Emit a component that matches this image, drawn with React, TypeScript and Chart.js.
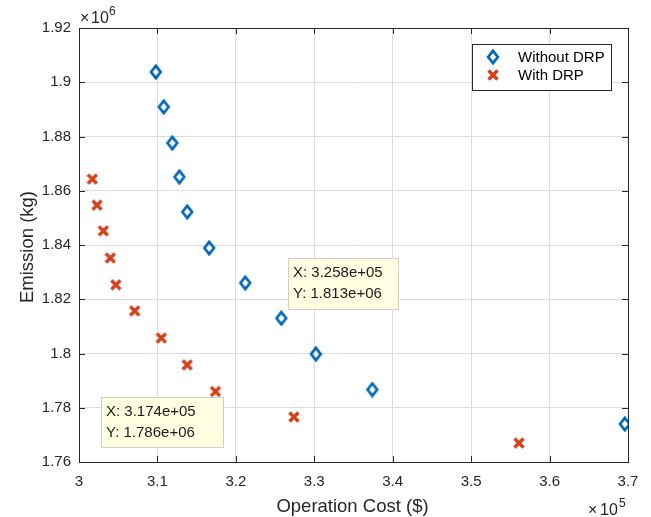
import React, { useEffect, useRef } from "react";
import { Chart, registerables } from "chart.js";

Chart.register(...registerables);

const costWithout = [309800, 310800, 311900, 312800, 313800, 316600, 321200, 325800, 330200, 337400, 369600];
const emissionWithout = [1903800, 1890900, 1877600, 1865100, 1852200, 1838900, 1826000, 1813000, 1799800, 1786700, 1774000];
const costWith = [301700, 302300, 303100, 304000, 304700, 307100, 310500, 313800, 317400, 327400, 356100];
const emissionWith = [1864300, 1854700, 1845200, 1835200, 1825300, 1815700, 1805700, 1795800, 1786000, 1776600, 1767000];

const seriesNames = ["Without DRP", "With DRP"];
const tipX = [325800, 317400];
const tipY = [1813000, 1786000];
const tipLabelsX = ["X: 3.258e+05", "X: 3.174e+05"];
const tipLabelsY = ["Y: 1.813e+06", "Y: 1.786e+06"];

const BLUE = "#0068B8";
const RED = "#D4401A";
const FONT = "'Liberation Sans', Arial, sans-serif";
const TXT = "#262626";

function makeDiamond() {
  const c = document.createElement("canvas");
  c.width = 14;
  c.height = 16;
  const g = c.getContext("2d")!;
  g.strokeStyle = BLUE;
  g.lineWidth = 2.7;
  g.beginPath();
  g.moveTo(7, 1.8);
  g.lineTo(11.8, 8);
  g.lineTo(7, 14.2);
  g.lineTo(2.2, 8);
  g.closePath();
  g.stroke();
  return c;
}

function makeCross() {
  const c = document.createElement("canvas");
  c.width = 12;
  c.height = 12;
  const g = c.getContext("2d")!;
  g.strokeStyle = RED;
  g.lineWidth = 3.4;
  g.lineCap = "butt";
  g.beginPath();
  g.moveTo(1.5, 1.5);
  g.lineTo(10.5, 10.5);
  g.moveTo(10.5, 1.5);
  g.lineTo(1.5, 10.5);
  g.stroke();
  return c;
}

function fmt(v: number, p: number) {
  return parseFloat((v / p).toFixed(3)).toString();
}

export default function App() {
  const ref = useRef<HTMLCanvasElement>(null);
  useEffect(() => {
    const diamond = makeDiamond();
    const cross = makeCross();
    const overlay = {
      id: "overlay",
      afterDraw(chart: any) {
        const ctx = chart.ctx as CanvasRenderingContext2D;
        const a = chart.chartArea;
        const xs = chart.scales.x;
        const ys = chart.scales.y;
        ctx.save();
        // box
        ctx.strokeStyle = TXT;
        ctx.lineWidth = 1;
        ctx.strokeRect(Math.round(a.left) + 0.5, Math.round(a.top) + 0.5, Math.round(a.right - a.left), Math.round(a.bottom - a.top));
        // inward ticks
        ctx.beginPath();
        xs.ticks.forEach((t: any) => {
          const px = Math.round(xs.getPixelForValue(t.value)) + 0.5;
          ctx.moveTo(px, a.bottom);
          ctx.lineTo(px, a.bottom - 6);
          ctx.moveTo(px, a.top);
          ctx.lineTo(px, a.top + 6);
        });
        ys.ticks.forEach((t: any) => {
          const py = Math.round(ys.getPixelForValue(t.value)) + 0.5;
          ctx.moveTo(a.left, py);
          ctx.lineTo(a.left + 6, py);
          ctx.moveTo(a.right, py);
          ctx.lineTo(a.right - 6, py);
        });
        ctx.stroke();
        // exponents
        ctx.fillStyle = TXT;
        ctx.textBaseline = "alphabetic";
        ctx.textAlign = "left";
        ctx.font = `16px ${FONT}`;
        ctx.fillText("\u00d7", a.left + 1, a.top - 5);
        ctx.fillText("10", a.left + 12, a.top - 5);
        ctx.font = `12px ${FONT}`;
        ctx.fillText("6", a.left + 30, a.top - 13);
        ctx.font = `16px ${FONT}`;
        ctx.fillText("\u00d7", a.right - 40, a.bottom + 53);
        ctx.fillText("10", a.right - 28, a.bottom + 53);
        ctx.font = `12px ${FONT}`;
        ctx.fillText("5", a.right - 9, a.bottom + 45);
        // axis titles
        ctx.font = `18.5px ${FONT}`;
        ctx.textAlign = "center";
        ctx.fillText("Operation Cost ($)", (a.left + a.right) / 2 - 1, a.bottom + 50);
        ctx.save();
        ctx.translate(a.left - 46, (a.top + a.bottom) / 2 + 2);
        ctx.rotate(-Math.PI / 2);
        ctx.fillText("Emission (kg)", 0, 0);
        ctx.restore();
        // legend
        const lx = a.right - 156, ly = a.top + 16, lw = 139, lh = 46;
        ctx.fillStyle = "#ffffff";
        ctx.fillRect(lx, ly, lw, lh);
        ctx.strokeStyle = "#262626";
        ctx.lineWidth = 1;
        ctx.strokeRect(lx + 0.5, ly + 0.5, lw, lh);
        ctx.drawImage(diamond, lx + 21 - 7, ly + 13 - 8);
        ctx.drawImage(cross, lx + 21 - 6, ly + 31 - 6);
        ctx.fillStyle = "#000";
        ctx.textAlign = "left";
        ctx.textBaseline = "middle";
        ctx.font = `15px ${FONT}`;
        ctx.fillText(seriesNames[0], lx + 46, ly + 14);
        ctx.fillText(seriesNames[1], lx + 46, ly + 32);
        // datatips
        const tipOffsets = [
          { dx: 7, dy: -60, w: 110, h: 51 },
          { dx: -114, dy: 6, w: 122, h: 50 },
        ];
        tipX.forEach((v, i) => {
          const px = xs.getPixelForValue(v);
          const py = ys.getPixelForValue(tipY[i]);
          const o = tipOffsets[i];
          const bx = Math.round(px + o.dx), by = Math.round(py + o.dy);
          ctx.fillStyle = "#FFFFE1";
          ctx.fillRect(bx, by, o.w, o.h);
          ctx.strokeStyle = "#d0d0c8";
          ctx.strokeRect(bx + 0.5, by + 0.5, o.w, o.h);
          ctx.fillStyle = "#1a1a1a";
          ctx.font = `15px ${FONT}`;
          ctx.textBaseline = "middle";
          ctx.fillText(tipLabelsX[i], bx + 5, by + 15);
          ctx.fillText(tipLabelsY[i], bx + 5, by + 36);
        });
        ctx.restore();
      },
    };
    const chart = new Chart(ref.current!, {
      type: "scatter",
      data: {
        datasets: [
          {
            label: seriesNames[0],
            data: costWithout.map((x, i) => ({ x, y: emissionWithout[i] })),
            pointStyle: diamond as any,
            pointRadius: 7,
          },
          {
            label: seriesNames[1],
            data: costWith.map((x, i) => ({ x, y: emissionWith[i] })),
            pointStyle: cross as any,
            pointRadius: 6,
          },
        ],
      },
      options: {
        responsive: false,
        animation: false,
        layout: { padding: { top: 28, right: 23, left: 0, bottom: 0 } },
        plugins: { legend: { display: false }, tooltip: { enabled: false } },
        scales: {
          x: {
            type: "linear",
            min: 300000,
            max: 370000,
            afterFit: (s: any) => { s.height = 55; },
            grid: { color: "#dcdcdc", drawTicks: false },
            border: { display: false },
            ticks: {
              stepSize: 10000,
              padding: 11,
              color: TXT,
              font: { family: FONT, size: 15 },
              callback: (v: any) => fmt(Number(v), 1e5),
              maxRotation: 0,
            },
          },
          y: {
            type: "linear",
            min: 1760000,
            max: 1920000,
            afterFit: (s: any) => { s.width = 79; },
            grid: { color: "#dcdcdc", drawTicks: false },
            border: { display: false },
            ticks: {
              stepSize: 20000,
              padding: 8,
              color: TXT,
              font: { family: FONT, size: 15 },
              callback: (v: any) => fmt(Number(v), 1e6),
            },
          },
        },
      },
      plugins: [overlay],
    });
    return () => chart.destroy();
  }, []);
  return (
    <div style={{ position: "fixed", left: 0, top: 0, width: 651, height: 517, background: "#fff" }}>
      <canvas ref={ref} width={651} height={517} />
    </div>
  );
}
